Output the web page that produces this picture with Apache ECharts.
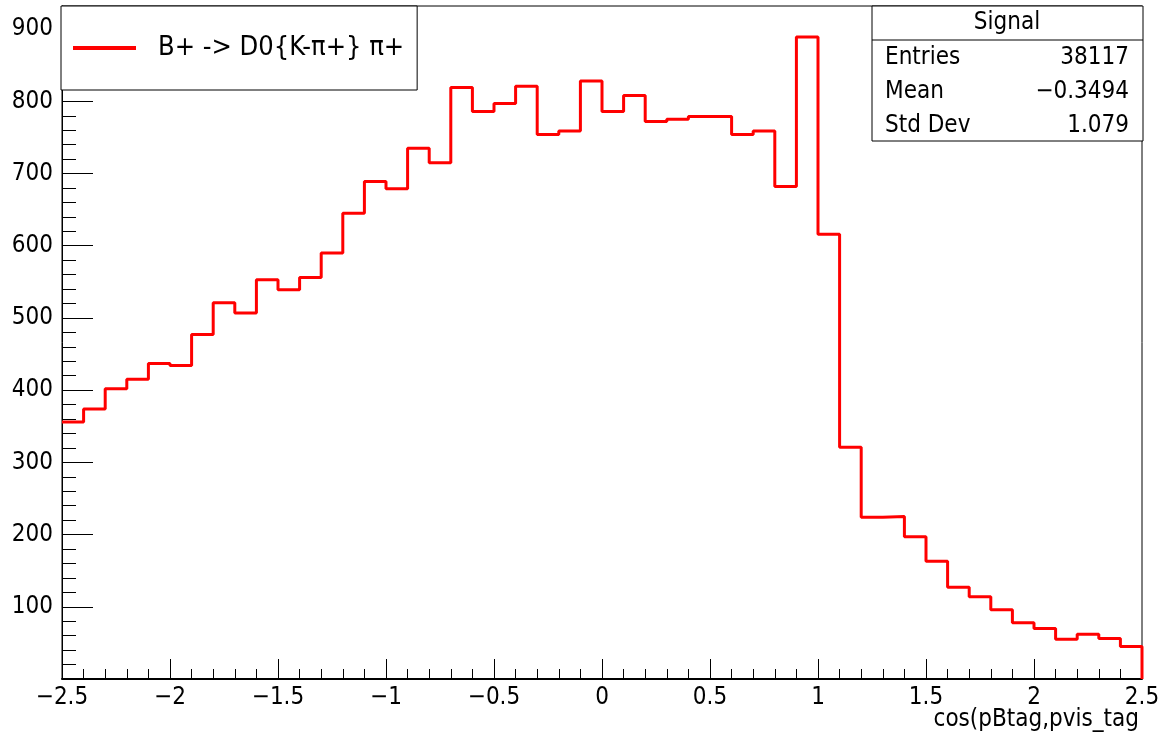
<!DOCTYPE html>
<html>
<head>
<meta charset="utf-8">
<script src="https://cdn.jsdelivr.net/npm/echarts@6/dist/echarts.min.js"></script>
<style>
html,body{margin:0;padding:0;background:#fff;}
#chart{width:1169px;height:740px;}
</style>
</head>
<body>
<div id="chart"></div>
<script>
// Histogram bin low edges (bin width 0.1)
var binLow = [-2.5,-2.4,-2.3,-2.2,-2.1,-2.0,-1.9,-1.8,-1.7,-1.6,
              -1.5,-1.4,-1.3,-1.2,-1.1,-1.0,-0.9,-0.8,-0.7,-0.6,
              -0.5,-0.4,-0.3,-0.2,-0.1,0.0,0.1,0.2,0.3,0.4,
              0.5,0.6,0.7,0.8,0.9,1.0,1.1,1.2,1.3,1.4,
              1.5,1.6,1.7,1.8,1.9,2.0,2.1,2.2,2.3,2.4];
var xUpperEdge = 2.5;
// Bin contents
var counts = [356,374,402,415,437,434,477,521,507,553,
              539,556,590,645,689,679,735,715,819,786,
              797,821,754,759,828,786,808,772,775,779,
              779,754,759,682,889,616,321,224,225,197,
              163,127,114,96,78,70,55,62,56,45];
var seriesName = 'B+ -> D0{K-\u03c0+} \u03c0+';
var xTitle = 'cos(pBtag,pvis_tag';
var statsTitle = 'Signal';
var statsLabels = ['Entries','Mean','Std Dev'];
var statsValues = ['38117','\u22120.3494','1.079'];

var FONT = "'Liberation Sans Narrow','Arial Narrow','DejaVu Sans Condensed','Liberation Sans',sans-serif";

var pts = [];
for (var i = 0; i < binLow.length; i++) pts.push([binLow[i], counts[i]]);
pts.push([xUpperEdge, 0]);

var chart = echarts.init(document.getElementById('chart'), null, {renderer:'canvas'});

var statsGraphics = [
  {type:'rect', shape:{x:872, y:6, width:271, height:135}, style:{fill:'#fff', stroke:'#000', lineWidth:1}, z:100},
  {type:'line', shape:{x1:872, y1:40, x2:1143, y2:40}, style:{stroke:'#000', lineWidth:1}, z:101},
  {type:'text', x:1007, y:23, style:{text:statsTitle, font:'24px '+FONT, fill:'#000', align:'center', verticalAlign:'middle'}, z:101},
  {type:'text', x:1139, y:720, style:{text:xTitle, font:'24px '+FONT, fill:'#000', align:'right', verticalAlign:'middle'}, z:101}
];
var rowY = [58, 92, 126];
for (var r = 0; r < statsLabels.length; r++) {
  statsGraphics.push({type:'text', x:885, y:rowY[r], style:{text:statsLabels[r], font:'24px '+FONT, fill:'#000', align:'left', verticalAlign:'middle'}, z:101});
  statsGraphics.push({type:'text', x:1129, y:rowY[r], style:{text:statsValues[r], font:'24px '+FONT, fill:'#000', align:'right', verticalAlign:'middle'}, z:101});
}

chart.setOption({
  animation:false,
  backgroundColor:'#fff',
  grid:{left:62, right:27, top:6, bottom:61, show:true, borderColor:'#000', borderWidth:1, backgroundColor:'transparent',
        containLabel:false, outerBoundsMode:'none'},
  legend:{
    show:true, left:61, top:6,
    padding:[24,13,24,12],
    backgroundColor:'#fff', borderColor:'#000', borderWidth:1,
    itemWidth:63, itemHeight:4, icon:'rect',
    textStyle:{fontFamily:FONT, fontSize:27, color:'#000', padding:[0,0,0,17], width:234, lineHeight:36},
    data:[{name:seriesName, icon:'rect', itemStyle:{color:'#ff0000'}}]
  },
  xAxis:{
    type:'value', min:-2.5, max:2.5, interval:0.5,
    axisLine:{show:true, onZero:false, lineStyle:{color:'#000', width:2}},
    axisTick:{show:true, inside:true, length:20, lineStyle:{color:'#000', width:1}},
    minorTick:{show:true, splitNumber:5, length:10, lineStyle:{color:'#000', width:1}},
    splitLine:{show:false},
    axisLabel:{fontFamily:FONT, fontSize:24, color:'#000', margin:7,
      formatter:function(v){ return String(Math.round(v*10)/10).replace('-', '\u2212'); }}
  },
  yAxis:{
    type:'value', min:0, max:932, interval:100,
    axisLine:{show:true, onZero:false, lineStyle:{color:'#000', width:1}},
    axisTick:{show:true, inside:true, length:31, lineStyle:{color:'#000', width:1}},
    minorTick:{show:true, splitNumber:5, length:14, lineStyle:{color:'#000', width:1}},
    splitLine:{show:false},
    axisLabel:{fontFamily:FONT, fontSize:24, color:'#000', margin:9, showMinLabel:false, showMaxLabel:false}
  },
  series:[{
    name:seriesName, type:'line', step:'end', data:pts,
    showSymbol:false, symbol:'none',
    lineStyle:{color:'#ff0000', width:3},
    itemStyle:{color:'#ff0000'},
    clip:true, z:5
  }],
  graphic:statsGraphics
});
</script>
</body>
</html>
